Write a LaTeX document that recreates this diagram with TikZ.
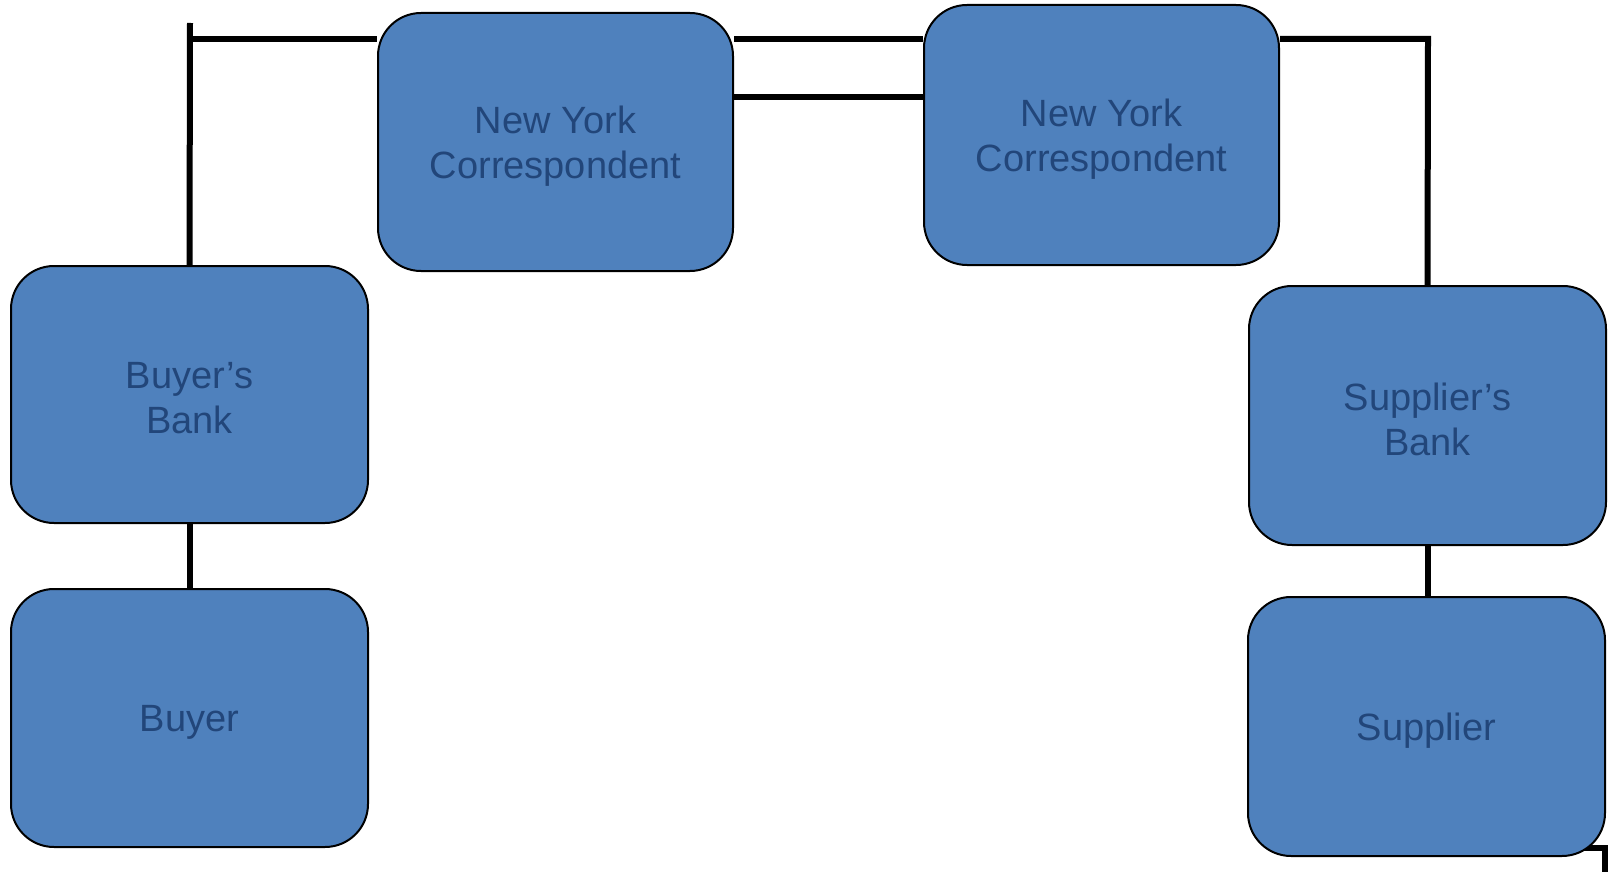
\documentclass[tikz,border=0pt]{standalone}
\usepackage{fontspec}
\setmainfont{Liberation Sans}
\usetikzlibrary{backgrounds}
\definecolor{boxblue}{HTML}{4F81BD}
\definecolor{txtblue}{RGB}{34,70,122}
\begin{document}
\begin{tikzpicture}[x=1pt,y=-1pt,
  bank/.style={draw=black,line width=2pt,fill=boxblue,rounded corners=43pt,
    minimum width=#1,inner sep=0pt},
  bank/.default=357pt,
  banktext/.style={text=txtblue,align=center,inner sep=0pt,yshift=-4pt,
    font=\fontsize{38}{45}\selectfont},
  link/.style={draw=black,line width=6pt}]
\useasboundingbox (0,0) rectangle (1615,872);
\node[bank=355pt,minimum height=258pt,label={[banktext]center:New York\\Correspondent}] (ny1) at (555.5,142) {};
\node[bank=355pt,minimum height=260pt,label={[banktext]center:New York\\Correspondent}] (ny2) at (1101.5,135) {};
\node[bank=357pt,minimum height=257pt,label={[banktext]center:Buyer’s\\Bank}] (bb) at (189.5,394.5) {};
\node[bank=357pt,minimum height=258pt,label={[banktext]center:Buyer}] (buyer) at (189.5,718) {};
\node[bank=357pt,minimum height=259pt,label={[banktext]center:Supplier’s\\Bank}] (sb) at (1427.5,415.5) {};
\node[bank=357pt,minimum height=259pt,label={[banktext]center:Supplier}] (sup) at (1426.5,726.5) {};
\coordinate (ltop) at (190,23);
\coordinate (lcorner) at (190,39);
\coordinate (rcorner) at (1428,39);
\coordinate (brin) at (1540,848);
\coordinate (brcorner) at (1605,848);
\coordinate (brend) at (1605,872);
\begin{scope}[on background layer]
\draw[link] (ltop) -- (bb.north);
\draw[link] (lcorner) -- (ny1.west |- lcorner);
\draw[link] (ny1.east |- lcorner) -- (ny2.west |- lcorner);
\draw[link] (ny1.east |- 0,97) -- (ny2.west |- 0,97);
\draw[link] (ny2.east |- rcorner) -- (rcorner) -- (sb.north);
\draw[link] (bb.south) -- (buyer.north);
\draw[link] (sb.south) -- (sb.south |- sup.north);
\draw[link] (brin) -- (brcorner) -- (brend);
\end{scope}
\end{tikzpicture}
\end{document}
